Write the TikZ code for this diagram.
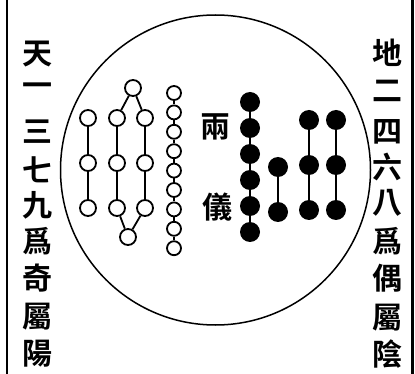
\documentclass[tikz,border=0pt]{standalone}
\usepackage{fontspec}
\newfontfamily\cjk{Noto Sans CJK TC}[BoldFont={Noto Sans CJK TC Bold}]
\usetikzlibrary{
    positioning % For relative placement
}

\begin{document}
\begin{tikzpicture}[
    x=1pt, y=-1pt, % Pixel-like units, y pointing down
    yang/.style={circle, draw, line width=1.8pt, fill=white, inner sep=0pt, minimum size=16pt}, % Hollow (odd) dots
    yangbead/.style={yang, minimum size=14pt},   % Beads of the long chain
    yin/.style={circle, fill=black, inner sep=0pt, minimum size=20pt}, % Solid (even) dots
    link/.style={line width=1.8pt},      % Thin link between hollow dots
    linkyin/.style={line width=2.8pt},   % Heavy link between solid dots
    glyph/.style={font=\cjk\bfseries\fontsize{30}{30}\selectfont, inner sep=0pt}, % Column characters
    frame/.style={line width=1.5pt}
]

    % Page size
    \useasboundingbox (0,0) rectangle (415,374);

    % Side rules and the big circle
    \draw[frame] (7,0) -- (7,374);
    \draw[line width=3pt] (412,0) -- (412,374);
    \draw[frame] (215.5,170) circle[radius=155];

    % Left column: heaven numbers
    \foreach \ch/\yy [count=\i] in {天/54, 一/90, 三/132, 七/170, 九/205, 爲/241, 奇/278, 屬/317, 陽/354}
        \node[glyph] (heaven\i) at (38,\yy) {\ch};

    % Right column: earth numbers
    \foreach \ch/\yy [count=\i] in {地/53, 二/91, 四/132, 六/167, 八/203, 爲/241, 偶/278, 屬/318, 陰/354}
        \node[glyph] (earth\i) at (387,\yy) {\ch};

    % Centre title
    \node[glyph] (liang) at (215,127) {兩};
    \node[glyph] (yi) at (217,207) {儀};

    % Hollow dots: column of three
    \foreach \yy [count=\i] in {118, 163, 208}
        \node[yang] (three\i) at (88,\yy) {};
    \draw[link] (three1) -- (three2) -- (three3);

    % Hollow dots: diamond
    \node[yang] (dtop) at (133,88) {};
    \node[yang] (dbot) at (128,237) {};
    \foreach \yy [count=\i] in {118, 163, 208} {
        \node[yang] (dl\i) at (117,\yy) {};
        \node[yang] (dr\i) at (145,\yy) {};
    }
    \draw[link] (dtop) -- (dl1) -- (dl2) -- (dl3) -- (dbot);
    \draw[link] (dtop) -- (dr1) -- (dr2) -- (dr3) -- (dbot);

    % Hollow dots: chain of nine
    \foreach \i in {1,...,9}
        \node[yangbead] (bead\i) at (174,{93+19.4*(\i-1)}) {};
    \foreach \i [evaluate=\i as \j using int(\i+1)] in {1,...,8}
        \draw[link] (bead\i) -- (bead\j);

    % Solid dots: chain of six
    \foreach \i in {1,...,6}
        \node[yin] (six\i) at (250,{102+26*(\i-1)}) {};
    \draw[linkyin] (six1) -- (six2) -- (six3) -- (six4) -- (six5) -- (six6);

    % Solid dots: pair
    \node[yin] (two1) at (278,167) {};
    \node[yin] (two2) at (278,212) {};
    \draw[linkyin] (two1) -- (two2);

    % Solid dots: two columns of three
    \foreach \yy [count=\i] in {120, 165, 210} {
        \node[yin] (pa\i) at (309,\yy) {};
        \node[yin] (pb\i) at (336,\yy) {};
    }
    \draw[linkyin] (pa1) -- (pa2) -- (pa3);
    \draw[linkyin] (pb1) -- (pb2) -- (pb3);

\end{tikzpicture}
\end{document}
